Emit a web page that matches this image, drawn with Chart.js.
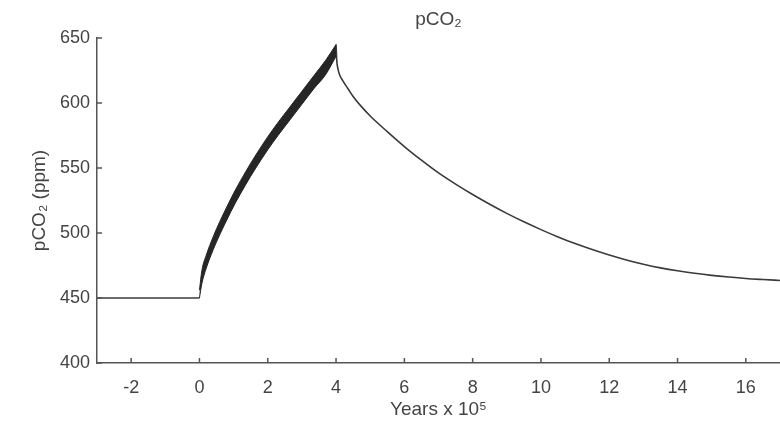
<!DOCTYPE html>
<html>
<head>
<meta charset="utf-8">
<script src="https://cdn.jsdelivr.net/npm/chart.js@4.4.1/dist/chart.umd.min.js"></script>
<style>
  html, body { margin: 0; padding: 0; background: #fff; }
  #wrap { width: 780px; height: 423px; position: relative; }
</style>
</head>
<body>
<div id="wrap"><canvas id="chart"></canvas></div>
<script>
// values (years in units of 10^5)
const preYears = [-3, 0];
const preValues = [450, 450];

// rising phase: drawn as a filled band between upper and lower envelope
const riseYears = [0, 0.07, 0.2, 0.4, 0.6, 0.8, 1.05, 1.35, 1.65, 2, 2.3, 2.65, 3, 3.35, 3.7, 4];
const riseUpper = [456, 471, 483, 497, 509, 520, 533, 547, 560, 574, 585, 597, 609, 621, 633, 645];
const riseLower = [450, 461, 473, 487, 499, 510, 523, 537, 550, 564, 575, 587, 599, 611, 622, 636];

const decayYears = [4, 4.02, 4.05, 4.1, 4.2, 4.35, 4.5, 4.75, 5, 5.5, 6, 6.5, 7, 7.5, 8, 8.5, 9, 9.5,
  10, 10.5, 11, 11.5, 12, 12.5, 13, 13.5, 14, 14.5, 15, 15.5, 16, 16.5, 17];
const decayValues = [645, 633, 627, 622, 617, 611, 605, 597, 590, 578, 566.5, 556, 546.2, 537.6, 529.6, 522.1, 515.1, 508.6,
  502.6, 497, 491.9, 487.3, 483.1, 479.3, 476, 473.2, 470.9, 469, 467.4, 466.1, 465, 464.2, 463.5];

const xTickValues = [-2, 0, 2, 4, 6, 8, 10, 12, 14, 16];
const yTickValues = [400, 450, 500, 550, 600, 650];

const toPoints = (xs, ys) => xs.map((x, i) => ({ x: x, y: ys[i] }));

const axisColor = "#555";
const textColor = "#444";
const fontFamily = "'Liberation Sans', Arial, Helvetica, sans-serif";

// short tick marks pointing into the plot area
const inwardTicks = {
  id: "inwardTicks",
  afterDraw(chart) {
    const ctx = chart.ctx;
    const x = chart.scales.x;
    const y = chart.scales.y;
    ctx.save();
    ctx.strokeStyle = axisColor;
    ctx.lineWidth = 1.5;
    ctx.beginPath();
    xTickValues.forEach((v) => {
      const px = x.getPixelForValue(v);
      ctx.moveTo(px, y.bottom);
      ctx.lineTo(px, y.bottom - 5);
    });
    yTickValues.forEach((v) => {
      const py = y.getPixelForValue(v);
      ctx.moveTo(x.left, py);
      ctx.lineTo(x.left + 5, py);
    });
    ctx.stroke();
    ctx.restore();
  },
};

const lineStyle = {
  borderColor: "#3a3a3a",
  borderWidth: 1.6,
  pointRadius: 0,
  cubicInterpolationMode: "monotone",
  fill: false,
};

new Chart(document.getElementById("chart"), {
  type: "line",
  data: {
    datasets: [
      {
        label: "rise upper",
        data: toPoints(riseYears, riseUpper),
        ...lineStyle,
        borderColor: "#262626",
        borderWidth: 1,
        backgroundColor: "#262626",
        fill: "+1",
      },
      {
        label: "rise lower",
        data: toPoints(riseYears, riseLower),
        ...lineStyle,
        borderColor: "#262626",
        borderWidth: 1,
      },
      {
        label: "pre",
        data: toPoints(preYears, preValues),
        ...lineStyle,
      },
      {
        label: "decay",
        data: toPoints(decayYears, decayValues),
        ...lineStyle,
      },
    ],
  },
  options: {
    responsive: true,
    maintainAspectRatio: false,
    animation: false,
    layout: { padding: 0 },
    plugins: {
      legend: { display: false },
      tooltip: { enabled: false },
    },
    scales: {
      x: {
        type: "linear",
        position: "bottom",
        min: -3,
        max: 17,
        afterBuildTicks: (s) => { s.ticks = xTickValues.map((v) => ({ value: v })); },
        afterFit: (s) => { s.height = 60; },
        grid: { display: false, drawTicks: false },
        border: { display: true, color: axisColor, width: 1.5 },
        ticks: {
          color: textColor,
          padding: 14,
          maxRotation: 0,
          font: { family: fontFamily, size: 18 },
        },
        title: {
          display: true,
          text: "Years x 10\u2075",
          color: textColor,
          font: { family: fontFamily, size: 19 },
          padding: { top: 0, bottom: 1.6 },
        },
      },
      top: {
        type: "linear",
        position: "top",
        min: -3,
        max: 17,
        afterFit: (s) => { s.height = 38; },
        grid: { display: false, drawTicks: false },
        border: { display: false },
        ticks: { display: false },
        title: {
          display: true,
          text: "pCO\u2082",
          color: textColor,
          font: { family: fontFamily, size: 19 },
          padding: { top: 8.6, bottom: 0 },
        },
      },
      y: {
        min: 400,
        max: 650,
        afterBuildTicks: (s) => { s.ticks = yTickValues.map((v) => ({ value: v })); },
        afterFit: (s) => { s.width = 97; },
        grid: { display: false, drawTicks: false },
        border: { display: true, color: axisColor, width: 1.5 },
        ticks: {
          color: textColor,
          padding: 7,
          font: { family: fontFamily, size: 18 },
        },
        title: {
          display: true,
          text: "pCO\u2082 (ppm)",
          color: textColor,
          font: { family: fontFamily, size: 19 },
          padding: { top: 28.6, bottom: 0 },
        },
      },
    },
  },
  plugins: [inwardTicks],
});
</script>
</body>
</html>
